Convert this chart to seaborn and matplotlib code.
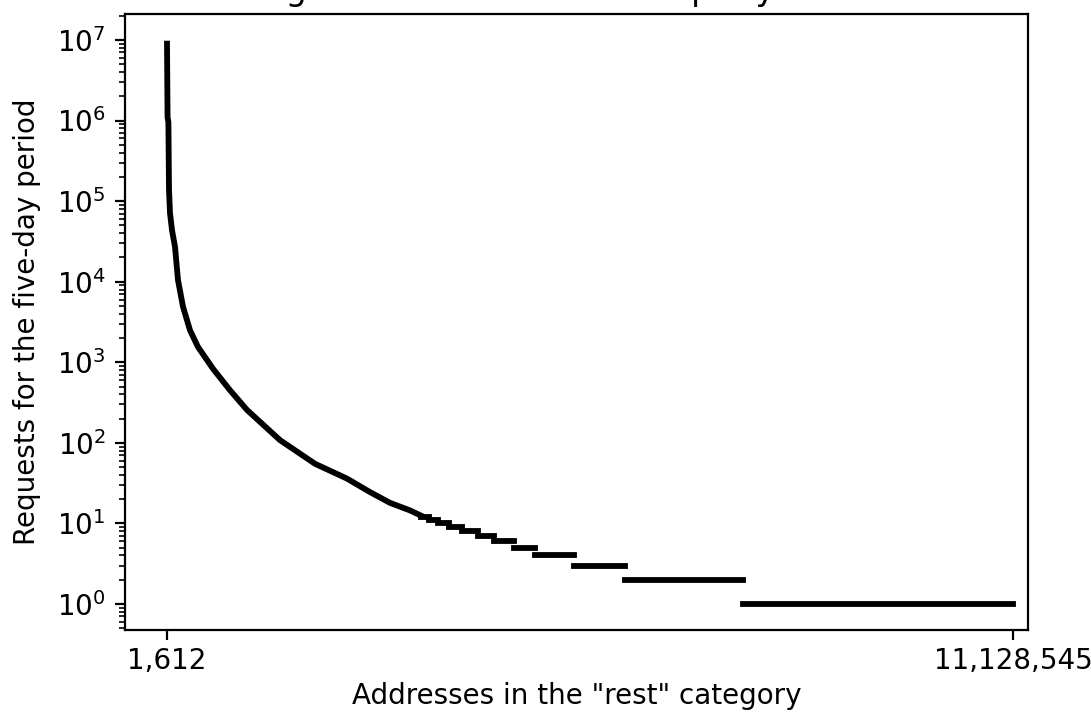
import matplotlib
matplotlib.use("Agg")
import matplotlib.pyplot as plt
import seaborn as sns
import pandas as pd

# ---- data ----
# head of the distribution: continuous curve (rank, requests)
head_rank = [1612, 9000, 20000, 28000, 41000, 67000, 107000, 146000, 212000,
             304000, 409000, 607000, 830000, 1054000, 1488000, 1948000,
             2369000, 2671000, 2935000, 3198000, 3342000]
head_count = [9.0e6, 1.1e6, 9.5e5, 1.4e5, 7.1e4, 4.4e4, 2.7e4, 1.05e4, 4.9e3,
              2.5e3, 1.55e3, 830, 450, 256, 108, 55,
              36, 24.5, 18, 14.5, 12.5]

# tail: plateaus of equal request counts (count, first rank)
tail_count = [12, 11, 10, 9, 8, 7, 6, 5, 4, 3, 2, 1]
tail_start = [3342000, 3447000, 3566000, 3710000, 3881000, 4092000,
              4302000, 4570000, 4835000, 5361000, 6019000, 7571000]
last_rank = 11128545
first_rank = 1612

xtick_vals = [first_rank, last_rank]
xtick_labels = ["1,612", "11,128,545"]

title = "Long tail of the addresses: query volumes"
xlabel = 'Addresses in the "rest" category'
ylabel = "Requests for the five-day period"

# ---- build frames ----
head_df = pd.DataFrame({"rank": head_rank, "count": head_count})

seg_rows = []
for i, (c, s) in enumerate(zip(tail_count, tail_start)):
    e = tail_start[i + 1] - 1 if i + 1 < len(tail_start) else last_rank
    seg_rows.append({"seg": i, "rank": s, "count": c})
    seg_rows.append({"seg": i, "rank": e, "count": c})
tail_df = pd.DataFrame(seg_rows)

# ---- figure ----
W, H, DPI = 1091, 713, 200
fig = plt.figure(figsize=(W / DPI, H / DPI), dpi=DPI)
ax = fig.add_axes([125 / W, 1 - 630 / H, (1028 - 125) / W, (630 - 14) / H])

sns.lineplot(data=head_df, x="rank", y="count", ax=ax, color="black",
             linewidth=2.1, sort=False, estimator=None)
sns.lineplot(data=tail_df, x="rank", y="count", units="seg", ax=ax,
             color="black", linewidth=2.1, sort=False, estimator=None)

ax.set_yscale("log")
ax.set_ylim(0.4757, 2.10e7)
ax.set_xlim(-550772, 11325484)
ax.set_xticks(xtick_vals)
ax.set_xticklabels(xtick_labels)
ax.minorticks_off()
ax.yaxis.set_minor_locator(matplotlib.ticker.LogLocator(base=10, subs="auto", numticks=20))
ax.tick_params(axis="x", pad=2.5)
ax.set_xlabel(xlabel, labelpad=2.5)
ax.set_ylabel(ylabel, labelpad=5.5)
ax.set_title(title, pad=5)

fig.savefig("out.png", dpi=DPI)
